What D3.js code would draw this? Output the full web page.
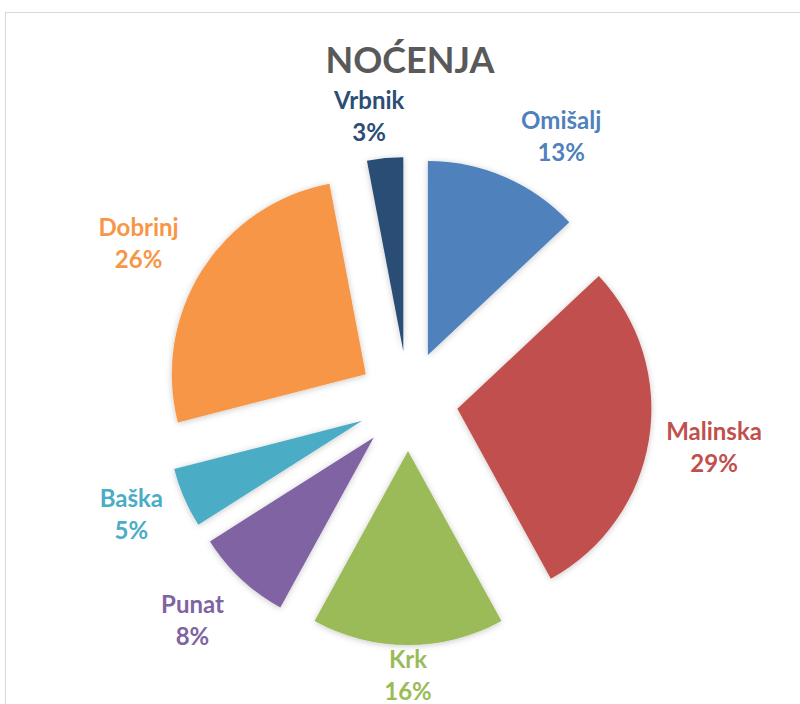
<!DOCTYPE html>
<html>
<head>
<meta charset="utf-8">
<script src="https://cdn.jsdelivr.net/npm/d3@7/dist/d3.min.js"></script>
<style>
  html, body { margin: 0; padding: 0; background: #fff; }
  svg { display: block; font-family: Lato, "Open Sans", sans-serif; }
</style>
</head>
<body>
<svg id="chart" width="800" height="704"></svg>
<script>
// Data
const categories = ['Omišalj', 'Malinska', 'Krk', 'Punat', 'Baška', 'Dobrinj', 'Vrbnik'];
const shares = [13, 29, 16, 8, 5, 26, 3];
const colors = ['#4F81BD', '#C0504D', '#9BBB59', '#8064A2', '#4BACC6', '#F79646', '#2C4D75'];
const title = 'NOĆENJA';

// Layout
const cx = 408, cy = 401;
const radius = 194;
const explode = 50;
const labelGap = 16;
// hand-tuned nudges to match where Excel moved some labels
const labelNudge = {
  'Omišalj': [34, -11], 'Malinska': [2, -1], 'Krk': [0, -9], 'Dobrinj': [-16, -11],
  'Vrbnik': [-11, -9], 'Punat': [-16, 12], 'Baška': [-9, -1]
};

const svg = d3.select('#chart');

// chart frame
svg.append('rect')
  .attr('x', 5.5).attr('y', 12.5)
  .attr('width', 820).attr('height', 720)
  .attr('fill', 'none')
  .attr('stroke', '#d9d9d9')
  .attr('stroke-width', 1);

const defs = svg.append('defs');
const shadow = defs.append('filter')
  .attr('id', 'shadow')
  .attr('x', '-20%').attr('y', '-20%')
  .attr('width', '140%').attr('height', '140%');
shadow.append('feDropShadow')
  .attr('dx', 0).attr('dy', 1)
  .attr('stdDeviation', 3)
  .attr('flood-color', '#000')
  .attr('flood-opacity', 0.22);

svg.append('text')
  .attr('x', 410).attr('y', 73)
  .attr('text-anchor', 'middle')
  .attr('font-size', 36)
  .attr('font-weight', 700)
  .attr('fill', '#595959')
  .text(title);

const data = categories.map((c, i) => ({ name: c, value: shares[i], color: colors[i] }));

const pie = d3.pie().sort(null).value(d => d.value);
const arc = d3.arc().innerRadius(0).outerRadius(radius);

const arcs = pie(data);

const g = svg.append('g').attr('transform', `translate(${cx},${cy})`);

// slices, each pushed out along its bisector
g.selectAll('.slice')
  .data(arcs)
  .enter()
  .append('path')
  .attr('class', 'slice')
  .attr('d', arc)
  .attr('fill', d => d.data.color)
  .attr('filter', 'url(#shadow)')
  .attr('transform', d => {
    const m = (d.startAngle + d.endAngle) / 2;
    return `translate(${explode * Math.sin(m)},${-explode * Math.cos(m)})`;
  });

// labels
const labels = g.selectAll('.label')
  .data(arcs)
  .enter()
  .append('text')
  .attr('class', 'label')
  .attr('text-anchor', 'middle')
  .attr('font-size', 24)
  .attr('font-weight', 700)
  .attr('fill', d => d.data.color);

labels.append('tspan')
  .attr('x', 0).attr('dy', -4)
  .text(d => d.data.name);
labels.append('tspan')
  .attr('x', 0).attr('dy', 32)
  .text(d => d.data.value + '%');

labels.attr('transform', function(d) {
  const m = (d.startAngle + d.endAngle) / 2;
  const ux = Math.sin(m), uy = -Math.cos(m);
  const hw = this.getBBox().width / 2;
  const hh = 20;
  const dist = explode + radius + labelGap;
  const nudge = labelNudge[d.data.name] || [0, 0];
  const x = ux * dist + ux * hw + nudge[0];
  const y = uy * dist + uy * hh + nudge[1];
  return `translate(${x},${y})`;
});
</script>
</body>
</html>
